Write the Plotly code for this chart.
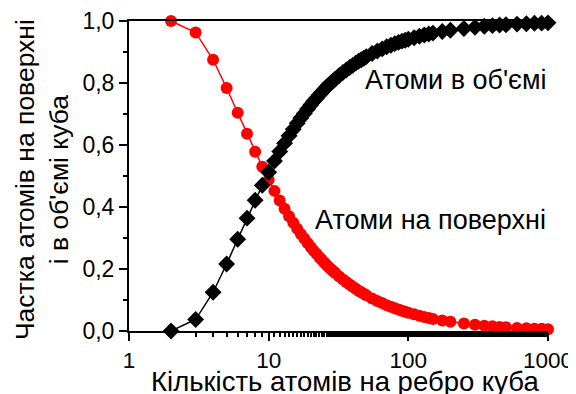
import plotly.graph_objects as go

# atoms per cube edge
n_atoms = [2, 3, 4, 5, 6, 7, 8, 9, 10, 11, 12, 13, 14, 15, 16, 17, 18, 19, 20,
           21, 22, 23, 24, 25, 26, 27, 28, 29, 30, 32, 34, 36, 38, 40, 42, 44,
           46, 48, 50, 55, 60, 65, 70, 75, 80, 85, 90, 95, 100, 110, 120, 130,
           140, 150, 175, 200, 250, 300, 350, 400, 450, 500, 600, 700, 800,
           900, 1000]

# fraction of atoms on the surface
surface = [1.000, 0.963, 0.875, 0.784, 0.704, 0.636, 0.578, 0.530, 0.488,
           0.452, 0.421, 0.394, 0.370, 0.349, 0.330, 0.313, 0.298, 0.284,
           0.271, 0.259, 0.249, 0.239, 0.230, 0.221, 0.213, 0.206, 0.199,
           0.193, 0.187, 0.176, 0.166, 0.158, 0.150, 0.143, 0.136, 0.130,
           0.125, 0.120, 0.115, 0.105, 0.097, 0.090, 0.083, 0.078, 0.073,
           0.069, 0.065, 0.062, 0.059, 0.054, 0.049, 0.045, 0.042, 0.039,
           0.034, 0.030, 0.024, 0.020, 0.017, 0.015, 0.013, 0.012, 0.010,
           0.009, 0.0075, 0.007, 0.006]

# fraction of atoms in the volume
volume = [0.000, 0.037, 0.125, 0.216, 0.296, 0.364, 0.422, 0.470, 0.512,
          0.548, 0.579, 0.606, 0.630, 0.651, 0.670, 0.687, 0.702, 0.716,
          0.729, 0.741, 0.751, 0.761, 0.770, 0.779, 0.787, 0.794, 0.801,
          0.807, 0.813, 0.824, 0.834, 0.842, 0.850, 0.857, 0.864, 0.870,
          0.875, 0.880, 0.885, 0.895, 0.903, 0.910, 0.917, 0.922, 0.927,
          0.931, 0.935, 0.938, 0.941, 0.946, 0.951, 0.955, 0.958, 0.961,
          0.966, 0.970, 0.976, 0.980, 0.983, 0.985, 0.987, 0.988, 0.990,
          0.991, 0.9925, 0.993, 0.994]

x_tickvals = [1, 10, 100, 1000]
x_ticktext = ["1", "10", "100", "1000"]
y_tickvals = [0, 0.2, 0.4, 0.6, 0.8, 1.0]
y_ticktext = ["0,0", "0,2", "0,4", "0,6", "0,8", "1,0"]

x_title = "Кількість атомів на ребро куба"
y_title = "Частка атомів на поверхні<br>і в об'ємі куба"
label_volume = "Атоми в об'ємі"
label_surface = "Атоми на поверхні"

FONT = "Liberation Sans, Arial, sans-serif"

fig = go.Figure()
fig.add_trace(go.Scatter(
    x=n_atoms, y=surface, mode="lines+markers",
    line=dict(color="#ff0000", width=1.5),
    marker=dict(symbol="circle", size=12, color="#ff0000"),
    cliponaxis=False, showlegend=False))
fig.add_trace(go.Scatter(
    x=n_atoms, y=volume, mode="lines+markers",
    line=dict(color="#000000", width=1.5),
    marker=dict(symbol="diamond", size=13, color="#000000"),
    cliponaxis=False, showlegend=False))

# page has an 8px body margin, so the figure is 8px smaller and shifted
fig.update_layout(
    width=568, height=386,
    margin=dict(l=121, r=28, t=13, b=63, autoexpand=False),
    paper_bgcolor="white", plot_bgcolor="white",
    font=dict(family=FONT, size=24, color="black"),
    xaxis=dict(
        type="log", range=[0, 3], automargin=False,
        tickvals=x_tickvals, ticktext=x_ticktext,
        ticks="outside", ticklen=8, tickwidth=2, tickcolor="black",
        minor=dict(ticks="outside", ticklen=4, tickwidth=1.5, tickcolor="black"),
        showline=True, linecolor="black", linewidth=2, mirror=True,
        showgrid=False, zeroline=False,
        tickfont=dict(size=22.5),
        ticklabelstandoff=0,
    ),
    yaxis=dict(
        range=[0, 1], automargin=False,
        tickvals=y_tickvals, ticktext=y_ticktext,
        ticks="outside", ticklen=8, tickwidth=2, tickcolor="black",
        minor=dict(dtick=0.1, ticks="outside", ticklen=4, tickwidth=1.5, tickcolor="black"),
        showline=True, linecolor="black", linewidth=2,
        showgrid=False, zeroline=False,
        tickfont=dict(size=23),
    ),
    annotations=[
        dict(text=label_volume, x=1.0, y=0.81, xref="paper", yref="paper",
             xanchor="right", yanchor="middle", showarrow=False, font=dict(size=27)),
        dict(text=label_surface, x=1.0, y=0.358, xref="paper", yref="paper",
             xanchor="right", yanchor="middle", showarrow=False, font=dict(size=27)),
        dict(text=x_title, x=0.5155, y=-0.163, xref="paper", yref="paper",
             xanchor="center", yanchor="middle", showarrow=False, font=dict(size=27.5)),
        dict(text=y_title, x=-0.2076, y=0.487, xref="paper", yref="paper",
             xanchor="center", yanchor="middle", showarrow=False, textangle=-90,
             font=dict(size=26.5)),
    ],
)

fig.write_html("out.html")
